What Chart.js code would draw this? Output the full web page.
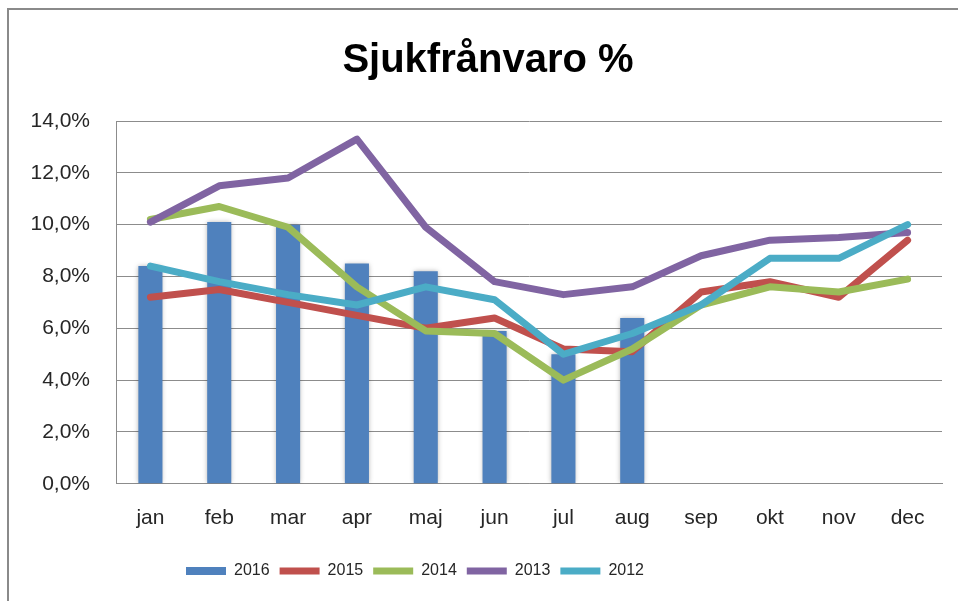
<!DOCTYPE html>
<html lang="sv">
<head>
<meta charset="utf-8">
<title>Sjukfrånvaro %</title>
<script src="https://cdn.jsdelivr.net/npm/chart.js@4.4.2/dist/chart.umd.min.js"></script>
<style>
  html, body { margin: 0; padding: 0; background: #fff; overflow: hidden; }
  #wrap { position: relative; width: 958px; height: 601px; }
  #frame {
    position: absolute; left: 7px; top: 8px; width: 1000px; height: 700px;
    border-top: 2px solid #8a8a8a; border-left: 2px solid #8a8a8a;
    pointer-events: none;
  }
</style>
</head>
<body>
<div id="wrap">
  <canvas id="chart" width="958" height="601"></canvas>
  <div id="frame"></div>
</div>
<script>
const months = ['jan', 'feb', 'mar', 'apr', 'maj', 'jun', 'jul', 'aug', 'sep', 'okt', 'nov', 'dec'];
const years = ['2016', '2015', '2014', '2013', '2012'];
const colors = ['#4f81bd', '#c0504d', '#9bbb59', '#8064a2', '#4bacc6'];

const values2016 = [8.4, 10.1, 10.0, 8.5, 8.2, 5.9, 5.0, 6.4, null, null, null, null];
const values2015 = [7.2, 7.5, 7.0, 6.5, 6.0, 6.4, 5.2, 5.1, 7.4, 7.8, 7.2, 9.4];
const values2014 = [10.2, 10.7, 9.9, 7.6, 5.9, 5.8, 4.0, 5.2, 6.9, 7.6, 7.4, 7.9];
const values2013 = [10.1, 11.5, 11.8, 13.3, 9.9, 7.8, 7.3, 7.6, 8.8, 9.4, 9.5, 9.7];
const values2012 = [8.4, 7.8, 7.3, 6.9, 7.6, 7.1, 5.0, 5.8, 6.9, 8.7, 8.7, 10.0];

const yMax = 14;
const yStep = 2;

const FONT = "'Liberation Sans', Arial, sans-serif";
const TEXT = '#262626';

// light shadow behind the bars, like the spreadsheet original
const barShadow = {
  id: 'barShadow',
  beforeDatasetDraw(chart, args) {
    if (args.meta.type !== 'bar') return;
    const ctx = chart.ctx;
    ctx.save();
    ctx.shadowColor = 'rgba(0, 0, 0, 0.35)';
    ctx.shadowBlur = 5;
  },
  afterDatasetDraw(chart, args) {
    if (args.meta.type !== 'bar') return;
    chart.ctx.restore();
  }
};

// the original has its title a bit right of centre and its legend left of centre
const nudgeBlocks = {
  id: 'nudgeBlocks',
  afterLayout(chart) {
    chart.titleBlock.left += 17;
    chart.titleBlock.right += 17;
    chart.legend.left = 176;
  }
};

const lineSet = (label, data, color, order) => ({
  type: 'line',
  label: label,
  data: data,
  borderColor: color,
  backgroundColor: color,
  borderWidth: 7,
  borderCapStyle: 'round',
  borderJoinStyle: 'round',
  pointRadius: 0,
  pointStyle: 'line',
  tension: 0,
  order: order
});

new Chart(document.getElementById('chart'), {
  type: 'bar',
  data: {
    labels: months,
    datasets: [
      {
        label: years[0],
        data: values2016,
        backgroundColor: colors[0],
        borderWidth: 0,
        categoryPercentage: 1.0,
        barPercentage: 0.35,
        pointStyle: 'rect',
        order: 5
      },
      lineSet(years[1], values2015, colors[1], 4),
      lineSet(years[2], values2014, colors[2], 3),
      lineSet(years[3], values2013, colors[3], 2),
      lineSet(years[4], values2012, colors[4], 1)
    ]
  },
  options: {
    responsive: false,
    animation: false,
    layout: {
      padding: { left: 0, right: 16, top: 0, bottom: 12 }
    },
    plugins: {
      title: {
        display: true,
        text: 'Sjukfrånvaro %',
        color: '#000',
        font: { family: FONT, size: 40, weight: 'bold' },
        padding: { top: 37, bottom: 36 }
      },
      legend: {
        position: 'bottom',
        align: 'start',
        labels: {
          usePointStyle: true,
          pointStyleWidth: 40,
          boxHeight: 8,
          padding: 10,
          color: TEXT,
          font: { family: FONT, size: 16 },
          sort: (a, b) => a.datasetIndex - b.datasetIndex
        }
      },
      tooltip: { enabled: false }
    },
    scales: {
      x: {
        grid: { display: false, drawTicks: false },
        border: { display: true, color: '#8c8c8c', width: 1 },
        ticks: {
          color: TEXT,
          padding: 22,
          font: { family: FONT, size: 21 }
        }
      },
      y: {
        min: 0,
        max: yMax,
        afterFit: scale => { scale.width = 116; },
        grid: { color: '#8c8c8c', lineWidth: 1, drawTicks: false },
        border: { display: true, color: '#8c8c8c', width: 1 },
        ticks: {
          stepSize: yStep,
          color: TEXT,
          padding: 26,
          font: { family: FONT, size: 21 },
          callback: value => value.toFixed(1).replace('.', ',') + '%'
        }
      }
    }
  },
  plugins: [barShadow, nudgeBlocks]
});
</script>
</body>
</html>
